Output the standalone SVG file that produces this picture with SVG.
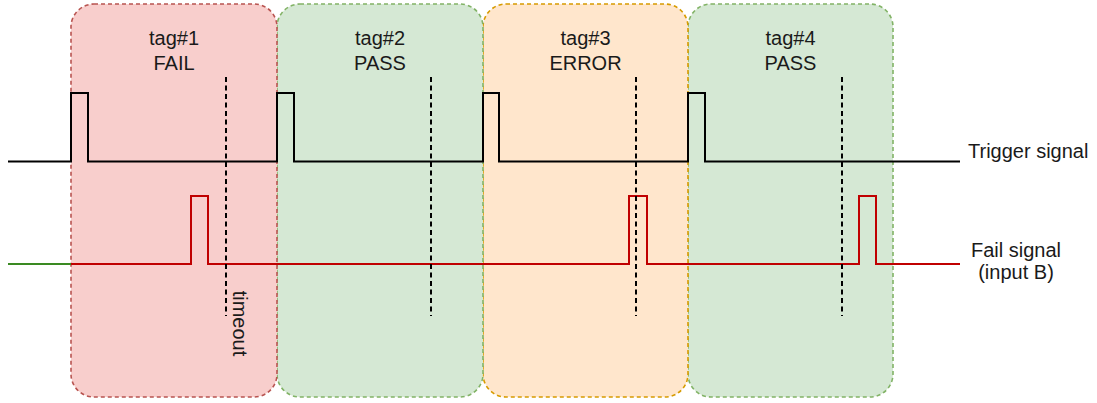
<svg xmlns="http://www.w3.org/2000/svg" width="1097" height="403" viewBox="0 0 1097 403">
<style>
  .lbl { font-family: "Liberation Sans", Arial, sans-serif; font-size: 20px; fill: #1a1a1a; text-anchor: middle; }
  .lbl-l { font-family: "Liberation Sans", Arial, sans-serif; font-size: 20px; fill: #1a1a1a; }
  .box { stroke-width: 1.6; stroke-dasharray: 4 3; }
  .red { fill: #f8cecc; stroke: #b85450; }
  .green { fill: #d5e8d4; stroke: #82b366; }
  .orange { fill: #ffe6cc; stroke: #d79b00; }
  .sig { fill: none; stroke-width: 2; stroke-linejoin: miter; }
  .vdash { fill: none; stroke: #000; stroke-width: 2; stroke-dasharray: 5 3.5; }
</style>
<rect width="1097" height="403" fill="#ffffff"/>
<g id="tag4">
  <rect class="box green" x="688" y="4" width="205" height="393" rx="23" ry="23"/>
  <text class="lbl" x="790.5" y="45">tag#4</text>
  <text class="lbl" x="790.5" y="70">PASS</text>
</g>
<g id="tag3">
  <rect class="box orange" x="483" y="4" width="205" height="393" rx="23" ry="23"/>
  <text class="lbl" x="585.5" y="45">tag#3</text>
  <text class="lbl" x="585.5" y="70">ERROR</text>
</g>
<g id="tag2">
  <rect class="box green" x="277" y="4" width="206" height="393" rx="23" ry="23"/>
  <text class="lbl" x="380" y="45">tag#2</text>
  <text class="lbl" x="380" y="70">PASS</text>
</g>
<g id="tag1">
  <rect class="box red" x="71" y="4" width="206" height="393" rx="23" ry="23"/>
  <text class="lbl" x="174" y="45">tag#1</text>
  <text class="lbl" x="174" y="70">FAIL</text>
</g>
<g id="connectors">
  <path id="trigger" class="sig" stroke="#000000" d="M8 161.5 H71 V93 H88 V161.5 H277 V93 H294 V161.5 H483 V93 H499 V161.5 H688 V93 H705 V161.5 H960"/>
  <path id="fail-start" class="sig" stroke="#3a8a22" d="M8 264 H71"/>
  <path id="fail" class="sig" stroke="#c00000" d="M71 264 H191 V196 H208 V264 H629 V196 H647 V264 H859 V196 H876 V264 H960"/>
  <line class="vdash" x1="226" y1="77" x2="226" y2="316"/>
  <line class="vdash" x1="431" y1="77" x2="431" y2="316"/>
  <line class="vdash" x1="636" y1="77" x2="636" y2="316"/>
  <line class="vdash" x1="842" y1="77" x2="842" y2="316"/>
</g>
<g id="timeout-label">
  <text class="lbl" transform="translate(233,323.5) rotate(90)" x="0" y="0">timeout</text>
</g>
<g id="trigger-label">
  <text class="lbl-l" x="968" y="158">Trigger signal</text>
</g>
<g id="fail-label">
  <text class="lbl" x="1016" y="257">Fail signal</text>
  <text class="lbl" x="1016" y="279">(input B)</text>
</g>
</svg>
